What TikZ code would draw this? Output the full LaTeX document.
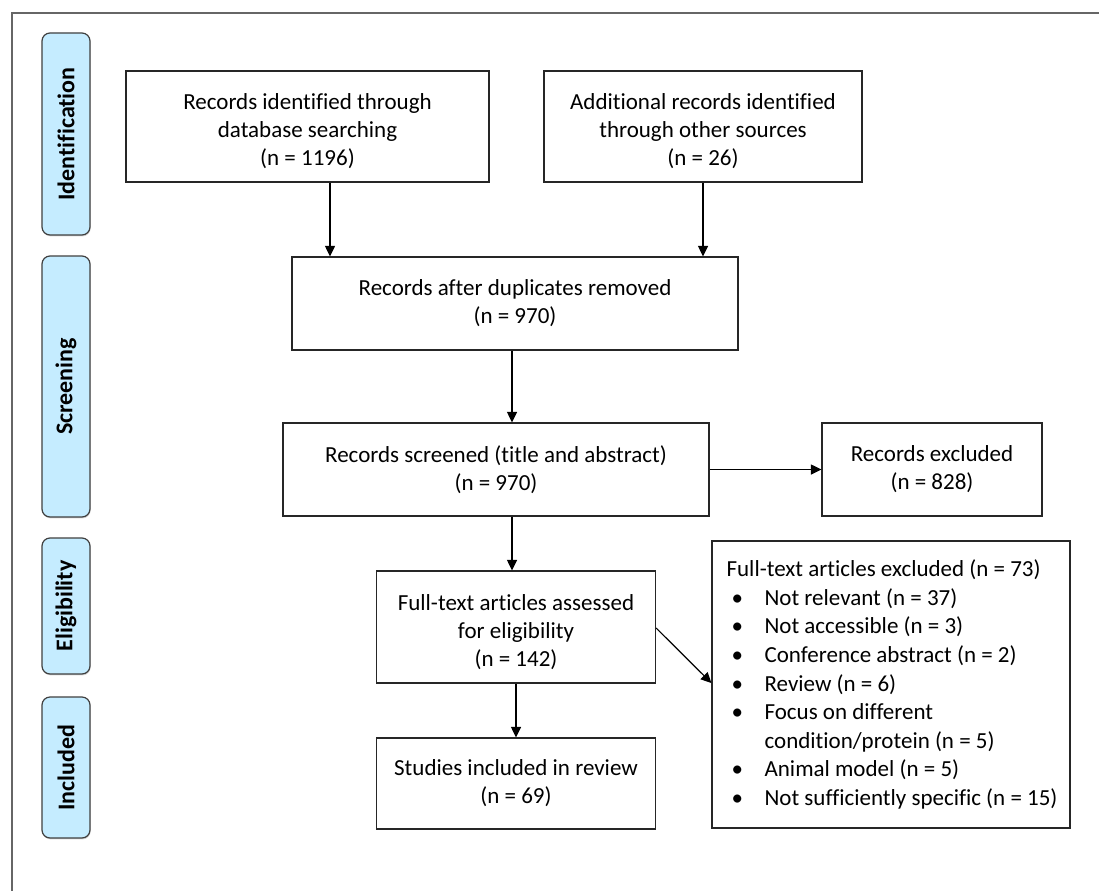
\documentclass[tikz,border=0pt]{standalone}
\usepackage{fontspec}
\setmainfont{Carlito}[Ligatures=NoCommon]
\usetikzlibrary{arrows.meta,shadows}
\newcommand{\lowtop}{\rule{0pt}{26pt}}
\begin{document}
\begin{tikzpicture}[x=1pt,y=-1pt,
  box/.style={draw=black!85, line width=1.2pt, fill=white, align=center, inner sep=0pt,
    font=\fontsize{23}{28}\selectfont},
  phase/.style={draw=black!75, line width=1.2pt, fill=phaseblue, rounded corners=8pt,
    minimum width=48pt, inner sep=0pt,
    drop shadow={shadow xshift=0.6pt, shadow yshift=-1.4pt, opacity=0.3}},
  phasetext/.style={rotate=90, font=\fontsize{24}{28}\selectfont\bfseries},
  listtext/.style={align=left, inner sep=0pt, font=\fontsize{23}{28.6}\selectfont},
  arr/.style={-{Triangle[length=10.5pt,width=10pt]}, line width=1.2pt, draw=black},
  frame/.style={draw=black!60, line width=1.3pt}
]
\definecolor{phaseblue}{RGB}{197,236,255}
\useasboundingbox (0,0) rectangle (1099,891);
\fill[white] (0,0) rectangle (1099,891);
% outer frame
\draw[frame] (1099,13) -- (12,13) -- (12,891);

% phase labels
\node[phase, minimum height=202pt] (p1) at (66,134) {};
\node[phasetext] (t1) at (p1.center) {Identification};
\node[phase, minimum height=261pt] (p2) at (66,386.5) {};
\node[phasetext] (t2) at (p2.center) {Screening};
\node[phase, minimum height=136pt] (p3) at (66,606) {};
\node[phasetext] (t3) at (p3.center) {Eligibility};
\node[phase, minimum height=141pt] (p4) at (66,767.5) {};
\node[phasetext] (t4) at (p4.center) {Included};

% boxes
\node[box, minimum width=363pt, minimum height=111pt] (b1) at (307.5,126.5)
  {\lowtop Records identified through\\database searching\\(n = 1196)};
\node[box, minimum width=318pt, minimum height=111pt] (b2) at (703,126.5)
  {\lowtop Additional records identified\\through other sources\\(n = 26)};
\node[box, minimum width=446pt, minimum height=93pt] (b3) at (515,303.5)
  {Records after duplicates removed\\(n = 970)};
\node[box, minimum width=426pt, minimum height=93pt] (b4) at (496,469.5)
  {Records screened (title and abstract)\\(n = 970)};
\node[box, minimum width=220pt, minimum height=93pt] (b5) at (932,469.5)
  {Records excluded\\(n = 828)};
\node[box, minimum width=279pt, minimum height=112pt] (b6) at (516,627)
  {\lowtop Full-text articles assessed\\for eligibility\\(n = 142)};
\node[box, minimum width=279pt, minimum height=91pt] (b7) at (516,783.5)
  {Studies included in review\\(n = 69)};
\node[box, minimum width=358pt, minimum height=287pt] (b8) at (891,684.5) {};
\node[listtext, anchor=west] (b8t) at ([xshift=15pt]b8.west)
  {Full-text articles excluded (n = 73)\\
   \makebox[38pt][l]{\hspace{5pt}•}Not relevant (n = 37)\\
   \makebox[38pt][l]{\hspace{5pt}•}Not accessible (n = 3)\\
   \makebox[38pt][l]{\hspace{5pt}•}Conference abstract (n = 2)\\
   \makebox[38pt][l]{\hspace{5pt}•}Review (n = 6)\\
   \makebox[38pt][l]{\hspace{5pt}•}Focus on different\\
   \hspace*{38pt}condition/protein (n = 5)\\
   \makebox[38pt][l]{\hspace{5pt}•}Animal model (n = 5)\\
   \makebox[38pt][l]{\hspace{5pt}•}Not sufficiently specific (n = 15)};

% connectors
\draw[arr] (b1.south -| 330,0) -- (b3.north -| 330,0);
\draw[arr] (b2.south -| 703,0) -- (b3.north -| 703,0);
\draw[arr] (b3.south -| 512,0) -- (b4.north -| 512,0);
\draw[arr] (b4.east) -- (b5.west);
\draw[arr] (b4.south -| 512,0) -- (b6.north -| 512,0);
\draw[arr] (b6.south) -- (b7.north);
\draw[arr] (b6.east |- 0,628) -- (b8.west |- 0,683);
\end{tikzpicture}
\end{document}
